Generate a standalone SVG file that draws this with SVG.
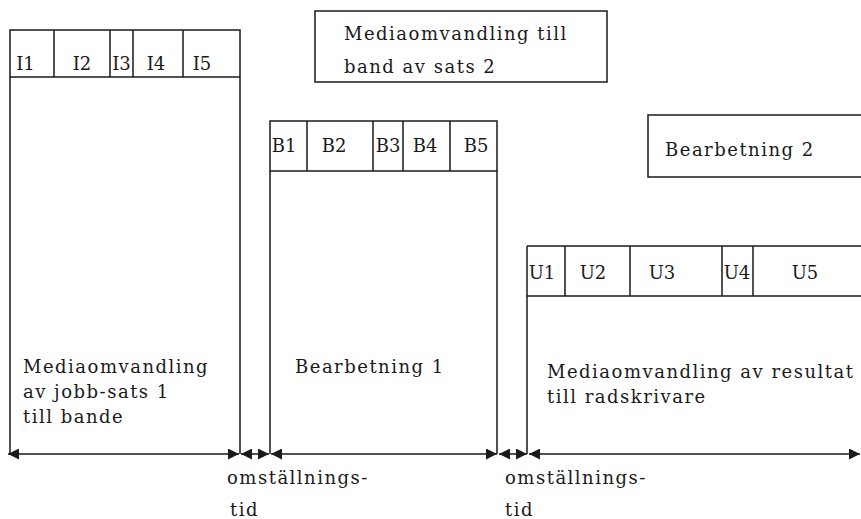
<svg xmlns="http://www.w3.org/2000/svg" width="861" height="519" viewBox="0 0 861 519">
  <style>
    .box { fill: none; stroke: #1a1a1a; stroke-width: 1.5; }
    .ln { fill: none; stroke: #1a1a1a; stroke-width: 1.5; }
    .lbl { font-family: "DejaVu Serif", "Liberation Serif", serif; font-size: 18px; letter-spacing: 1.5px; fill: #1a1a1a; }
    .cell { font-family: "DejaVu Serif", "Liberation Serif", serif; font-size: 18px; fill: #1a1a1a; text-anchor: middle; }
    .dim { fill: none; stroke: #1a1a1a; stroke-width: 1.5; marker-start: url(#tip); marker-end: url(#tip); }
  </style>
  <defs>
    <marker id="tip" viewBox="0 0 11 11" refX="11" refY="5.5" markerUnits="userSpaceOnUse" markerWidth="11" markerHeight="11" orient="auto-start-reverse">
      <path d="M0,0 L11,5.5 L0,11 Z" fill="#1a1a1a"/>
    </marker>
  </defs>
  <rect width="861" height="519" fill="#ffffff"/>

  <!-- batch 1: media conversion to tape -->
  <g id="jobb1">
    <rect class="box" x="10" y="30" width="230" height="47"/>
    <path class="ln" d="M54,30 V77 M110,30 V77 M133,30 V77 M183,30 V77"/>
    <path class="ln" d="M10,77 V454 M240,77 V454"/>
    <text class="cell" x="25.5" y="70">I1</text>
    <text class="cell" x="82" y="70">I2</text>
    <text class="cell" x="121.5" y="70">I3</text>
    <text class="cell" x="156" y="70">I4</text>
    <text class="cell" x="202" y="70">I5</text>
    <text class="lbl" x="23" y="373">Mediaomvandling</text>
    <text class="lbl" x="23" y="398">av jobb-sats 1</text>
    <text class="lbl" x="23" y="423">till bande</text>
  </g>

  <!-- processing 1 -->
  <g id="bearb1">
    <rect class="box" x="270" y="121" width="227" height="50"/>
    <path class="ln" d="M307,121 V171 M373,121 V171 M403,121 V171 M450,121 V171"/>
    <path class="ln" d="M270,171 V454 M497,171 V454"/>
    <text class="cell" x="284" y="152">B1</text>
    <text class="cell" x="334" y="152">B2</text>
    <text class="cell" x="388" y="152">B3</text>
    <text class="cell" x="425" y="152">B4</text>
    <text class="cell" x="476" y="152">B5</text>
    <text class="lbl" x="295" y="373">Bearbetning 1</text>
  </g>

  <!-- output to line printer -->
  <g id="utskrift">
    <path class="ln" d="M527,246 H870 M527,296 H870 M527,246 V454"/>
    <path class="ln" d="M565,246 V296 M630,246 V296 M722,246 V296 M753,246 V296"/>
    <text class="cell" x="542" y="279">U1</text>
    <text class="cell" x="593" y="279">U2</text>
    <text class="cell" x="662" y="279">U3</text>
    <text class="cell" x="737" y="279">U4</text>
    <text class="cell" x="805" y="279">U5</text>
    <text class="lbl" x="547" y="378">Mediaomvandling av resultat</text>
    <text class="lbl" x="547" y="403">till radskrivare</text>
  </g>

  <!-- batch 2: media conversion to tape -->
  <g id="jobb2">
    <rect class="box" x="315" y="11" width="292" height="71"/>
    <text class="lbl" x="344" y="40">Mediaomvandling till</text>
    <text class="lbl" x="344" y="73">band av sats 2</text>
  </g>

  <!-- processing 2 -->
  <g id="bearb2">
    <rect class="box" x="648" y="115" width="220" height="62"/>
    <text class="lbl" x="665" y="156">Bearbetning 2</text>
  </g>

  <!-- time axis with changeover intervals -->
  <g id="connectors">
    <line class="dim" x1="8" y1="454" x2="239" y2="454"/>
    <line class="dim" x1="241" y1="454" x2="269" y2="454"/>
    <line class="dim" x1="271" y1="454" x2="497" y2="454"/>
    <line class="dim" x1="499" y1="454" x2="527" y2="454"/>
    <line class="dim" x1="529" y1="454" x2="860" y2="454"/>
  </g>

  <g id="omst1">
    <text class="lbl" x="227" y="484">omställnings-</text>
    <text class="lbl" x="230" y="516">tid</text>
  </g>
  <g id="omst2">
    <text class="lbl" x="505" y="484">omställnings-</text>
    <text class="lbl" x="505" y="516">tid</text>
  </g>
</svg>
